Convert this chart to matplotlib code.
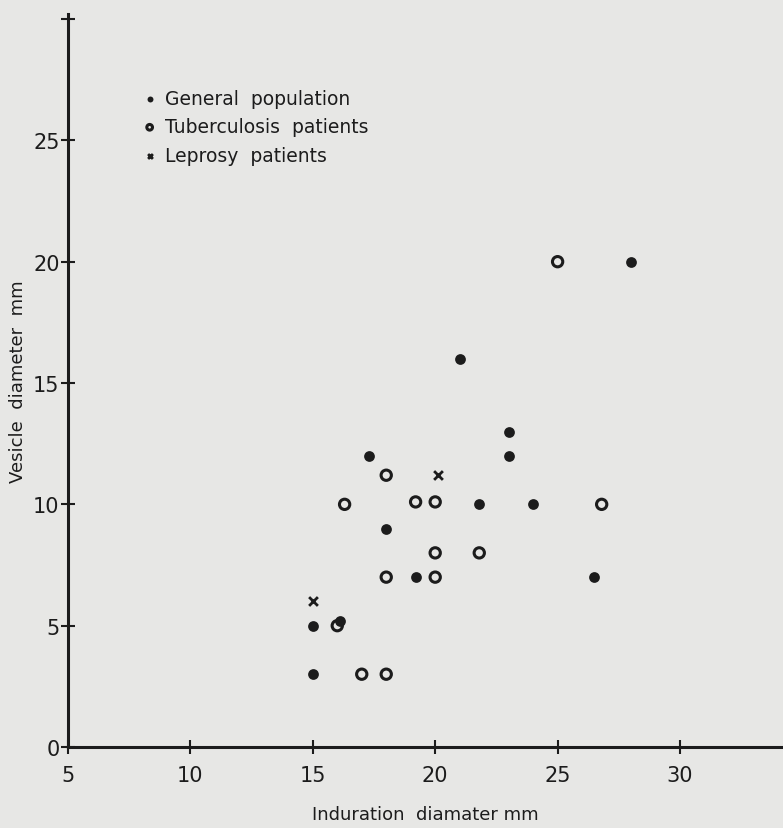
import matplotlib.pyplot as plt

# values (mm)
gen_x = [23, 23, 17.3, 21.8, 24, 18, 19.2, 15, 16.1, 15, 21, 28, 26.5]
gen_y = [13, 12, 12, 10, 10, 9, 7, 5, 5.2, 3, 16, 20, 7]

tb_x = [18, 16.3, 19.2, 20, 20, 21.8, 18, 20, 16, 17, 18, 25, 26.8]
tb_y = [11.2, 10, 10.1, 10.1, 8, 8, 7, 7, 5, 3, 3, 20, 10]

lep_x = [20.1, 15]
lep_y = [11.2, 6]

xticks = [5, 10, 15, 20, 25, 30]
yticks = [0, 5, 10, 15, 20, 25, 30]
ytick_labels = ['0', '5', '10', '15', '20', '25', '']

paper = '#e7e7e5'
ink = '#1c1c1c'
font = ['Liberation Sans Narrow', 'DejaVu Sans']
plt.rcParams['font.family'] = font

fig = plt.figure(figsize=(7.83, 8.29), dpi=100, facecolor=paper)
ax = fig.add_axes([0.0868, 0.0977, 0.913, 0.884], facecolor=paper)

ax.scatter(gen_x, gen_y, s=60, color=ink, marker='o', linewidths=0,
           label='General  population', zorder=3)
ax.scatter(tb_x, tb_y, s=55, facecolors='none', edgecolors=ink, marker='o',
           linewidths=2.2, label='Tuberculosis  patients', zorder=3)
ax.scatter(lep_x, lep_y, s=40, color=ink, marker='x', linewidths=2,
           label='Leprosy  patients', zorder=3)

ax.set_xlim(5, 34.2)
ax.set_ylim(0, 30.2)
ax.set_xticks(xticks)
ax.set_yticks(yticks)
ax.set_yticklabels(ytick_labels)

for s in ['top', 'right']:
    ax.spines[s].set_visible(False)
for s in ['left', 'bottom']:
    ax.spines[s].set_linewidth(2.2)
    ax.spines[s].set_color(ink)

ax.tick_params(axis='x', direction='inout', length=10, width=1.5, color=ink,
               labelsize=15, labelcolor=ink, pad=8)
ax.tick_params(axis='y', direction='inout', length=10, width=1.5, color=ink,
               labelsize=15, labelcolor=ink, pad=1)

ax.set_xlabel('Induration  diamater mm', fontsize=13, color=ink, labelpad=14)
ax.set_ylabel('Vesicle  diameter  mm', fontsize=13, color=ink)
ax.yaxis.set_label_coords(-0.058, 0.5)

leg = ax.legend(loc='upper left', bbox_to_anchor=(0.16, 0.912),
                bbox_transform=fig.transFigure, frameon=False, fontsize=13.5,
                markerscale=0.55, handletextpad=0.4, labelspacing=0.5,
                handlelength=0.8)
for t in leg.get_texts():
    t.set_color(ink)

fig.savefig('out.png', dpi=100, facecolor=paper)
